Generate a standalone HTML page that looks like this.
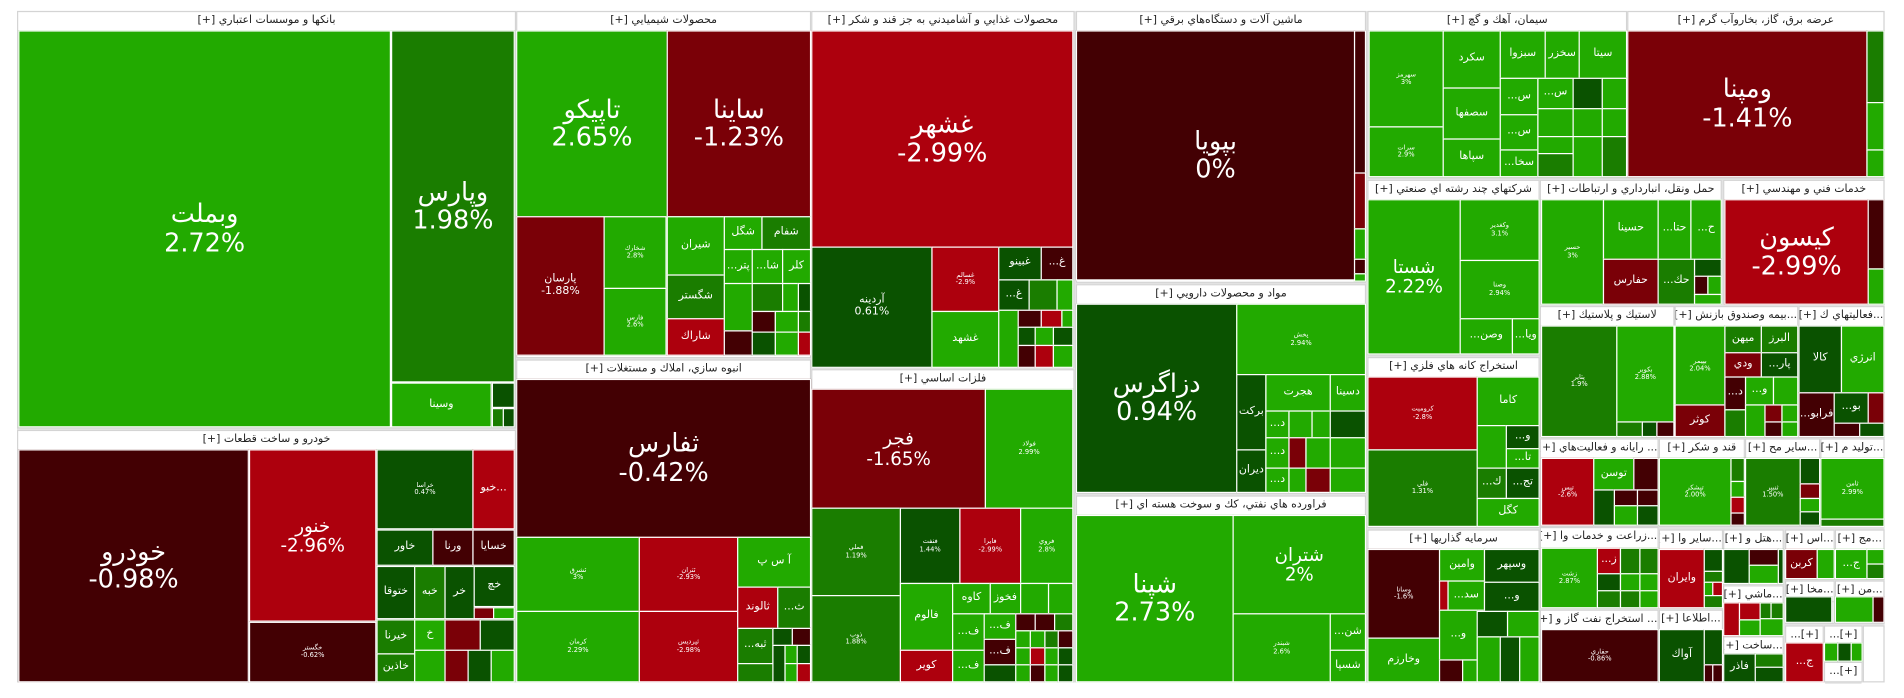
<!DOCTYPE html>
<html><head><meta charset="utf-8"><style>
html,body{margin:0;padding:0;background:#fff;width:1904px;height:698px;overflow:hidden}
#w{position:absolute;left:0;top:0;width:1568px;height:575px;transform:scale(1.2143);transform-origin:0 0}
.s{position:absolute;background:#fff;border:1px solid #d4d4d4;box-sizing:border-box}
.h{position:absolute;left:0;right:0;top:0;height:16px;line-height:15px;font-size:9px;color:#222;text-align:center;direction:rtl;white-space:nowrap;overflow:hidden;font-family:"DejaVu Sans","Liberation Sans",sans-serif;border-bottom:1px solid #ddd}
.t{position:absolute;box-sizing:border-box;border:1px solid #fff;display:flex;align-items:center;justify-content:center;text-align:center;color:#fff;overflow:hidden;line-height:1.1;font-family:"DejaVu Sans","Liberation Sans",sans-serif;font-size:9px;white-space:nowrap}
.g{background:#22aa00}.m{background:#1a7d00}.d{background:#0a5200}.r{background:#ad000d}.k{background:#7a0007}.x{background:#430003}
.f1{font-size:21px}.f2{font-size:15px}.f3{font-size:9px}.f4{font-size:5.5px}
</style></head><body><div id="w">
<div style="position:absolute;left:14px;top:9px;width:1538px;height:553px;background:#e2e2e2"></div>

<div class="s" style="left:14px;top:9px;width:411px;height:344px"><div class="h">بانكها و موسسات اعتباري [+]</div></div>
<div class="s" style="left:14px;top:354px;width:411px;height:208px"><div class="h">خودرو و ساخت قطعات [+]</div></div>
<div class="s" style="left:425px;top:9px;width:243px;height:286px"><div class="h">محصولات شيميايي [+]</div></div>
<div class="s" style="left:425px;top:296px;width:243px;height:266px"><div class="h">انبوه سازي، املاك و مستغلات [+]</div></div>
<div class="s" style="left:668px;top:9px;width:217px;height:294px"><div class="h">محصولات غذايي و آشاميدني به جز قند و شكر [+]</div></div>
<div class="s" style="left:668px;top:304px;width:217px;height:258px"><div class="h">فلزات اساسي [+]</div></div>
<div class="s" style="left:886px;top:9px;width:239px;height:224px"><div class="h">ماشين آلات و دستگاه‌هاي برقي [+]</div></div>
<div class="s" style="left:886px;top:234px;width:239px;height:173px"><div class="h">مواد و محصولات دارويي [+]</div></div>
<div class="s" style="left:886px;top:408px;width:239px;height:154px"><div class="h">فراورده هاي نفتي، كك و سوخت هسته اي [+]</div></div>
<div class="s" style="left:1126px;top:9px;width:214px;height:138px"><div class="h">سيمان، آهك و گچ [+]</div></div>
<div class="s" style="left:1340px;top:9px;width:212px;height:138px"><div class="h">عرضه برق، گاز، بخاروآب گرم [+]</div></div>
<div class="s" style="left:1126px;top:148px;width:142px;height:145px"><div class="h">شركتهاي چند رشته اي صنعتي [+]</div></div>
<div class="s" style="left:1268px;top:148px;width:150px;height:103px"><div class="h">حمل ونقل، انبارداري و ارتباطات [+]</div></div>
<div class="s" style="left:1419px;top:148px;width:133px;height:103px"><div class="h">خدمات فني و مهندسي [+]</div></div>
<div class="s" style="left:1126px;top:294px;width:142px;height:141px"><div class="h">استخراج كانه هاي فلزي [+]</div></div>
<div class="s" style="left:1126px;top:436px;width:142px;height:126px"><div class="h">سرمايه گذاريها [+]</div></div>
<div class="s" style="left:1268px;top:252px;width:111px;height:108px"><div class="h">لاستيك و پلاستيك [+]</div></div>
<div class="s" style="left:1379px;top:252px;width:102px;height:108px"><div class="h">...بيمه وصندوق بازنش [+]</div></div>
<div class="s" style="left:1481px;top:252px;width:71px;height:108px"><div class="h">...فعاليتهاي ك [+]</div></div>
<div class="s" style="left:1268px;top:361px;width:98px;height:73px"><div class="h">... رايانه و فعاليت‌هاي [+]</div></div>
<div class="s" style="left:1366px;top:361px;width:71px;height:73px"><div class="h">قند و شكر [+]</div></div>
<div class="s" style="left:1437px;top:361px;width:62px;height:73px"><div class="h">...ساير مح [+]</div></div>
<div class="s" style="left:1499px;top:361px;width:53px;height:73px"><div class="h">...توليد م [+]</div></div>
<div class="s" style="left:1268px;top:434px;width:98px;height:67px"><div class="h">...زراعت و خدمات وا [+]</div></div>
<div class="s" style="left:1268px;top:502px;width:98px;height:60px"><div class="h">... استخراج نفت گاز و [+]</div></div>
<div class="s" style="left:1366px;top:436px;width:53px;height:65px"><div class="h">...ساير وا [+]</div></div>
<div class="s" style="left:1366px;top:502px;width:53px;height:60px"><div class="h">...اطلاعا [+]</div></div>
<div class="s" style="left:1419px;top:436px;width:50px;height:45px"><div class="h">...هتل و [+]</div></div>
<div class="s" style="left:1419px;top:482px;width:50px;height:42px"><div class="h">...ماشي [+]</div></div>
<div class="s" style="left:1419px;top:524px;width:50px;height:38px"><div class="h">...ساخت [+]</div></div>
<div class="s" style="left:1470px;top:436px;width:41px;height:41px"><div class="h">...اس [+]</div></div>
<div class="s" style="left:1511px;top:436px;width:41px;height:41px"><div class="h">...مج [+]</div></div>
<div class="s" style="left:1470px;top:478px;width:41px;height:36px"><div class="h">...مخا [+]</div></div>
<div class="s" style="left:1511px;top:478px;width:41px;height:36px"><div class="h">...من [+]</div></div>
<div class="s" style="left:1470px;top:515px;width:32px;height:47px"><div class="h">[+]...</div></div>
<div class="s" style="left:1502px;top:515px;width:32px;height:30px"><div class="h">[+]...</div></div>
<div class="s" style="left:1502px;top:545px;width:32px;height:17px"><div class="h">[+]...</div></div>
<div class="s" style="left:1534px;top:515px;width:18px;height:47px"></div>

<!-- Banks -->
<div class="t g f1" style="left:15px;top:25px;width:307px;height:327px">وبملت<br>2.72%</div>
<div class="t m f1" style="left:322px;top:25px;width:102px;height:290px">وپارس<br>1.98%</div>
<div class="t g f3" style="left:322px;top:315px;width:83px;height:37px">وسينا</div>
<div class="t d" style="left:405px;top:315px;width:19px;height:21px"></div>
<div class="t m" style="left:405px;top:336px;width:10px;height:16px"></div>
<div class="t d" style="left:414px;top:336px;width:10px;height:16px"></div>

<!-- Auto -->
<div class="t x f1" style="left:15px;top:370px;width:190px;height:192px">خودرو<br>-0.98%</div>
<div class="t r f2" style="left:205px;top:370px;width:105px;height:142px">خنور<br>-2.96%</div>
<div class="t x f4" style="left:205px;top:512px;width:105px;height:50px">خگستر<br>-0.62%</div>
<div class="t d f4" style="left:310px;top:370px;width:80px;height:66px">خراسا<br>0.47%</div>
<div class="t r f3" style="left:389px;top:370px;width:35px;height:66px">خبو...</div>
<div class="t d f3" style="left:310px;top:436px;width:47px;height:30px">خاور</div>
<div class="t x f3" style="left:356px;top:436px;width:34px;height:30px">ورنا</div>
<div class="t x f3" style="left:389px;top:436px;width:35px;height:30px">خسايا</div>
<div class="t d f3" style="left:310px;top:466px;width:32px;height:44px">ختوقا</div>
<div class="t m f3" style="left:341px;top:466px;width:26px;height:44px">خبه</div>
<div class="t d f3" style="left:366px;top:466px;width:25px;height:44px">خر</div>
<div class="t d f3" style="left:390px;top:466px;width:34px;height:34px">خچ</div>
<div class="t k" style="left:390px;top:500px;width:17px;height:10px"></div>
<div class="t g" style="left:406px;top:500px;width:18px;height:10px"></div>
<div class="t m f3" style="left:310px;top:510px;width:32px;height:29px">خيرنا</div>
<div class="t m f3" style="left:310px;top:538px;width:32px;height:24px">خاذين</div>
<div class="t g f3" style="left:341px;top:510px;width:26px;height:26px">خ</div>
<div class="t k" style="left:366px;top:510px;width:30px;height:26px"></div>
<div class="t d" style="left:395px;top:510px;width:29px;height:26px"></div>
<div class="t g" style="left:341px;top:535px;width:26px;height:27px"></div>
<div class="t k" style="left:366px;top:535px;width:20px;height:27px"></div>
<div class="t d" style="left:385px;top:535px;width:20px;height:27px"></div>
<div class="t g" style="left:404px;top:535px;width:20px;height:27px"></div>

<!-- Chem -->
<div class="t g f1" style="left:425px;top:25px;width:125px;height:154px">تاپيكو<br>2.65%</div>
<div class="t k f1" style="left:549px;top:25px;width:119px;height:154px">ساينا<br>-1.23%</div>
<div class="t k f3" style="left:425px;top:178px;width:73px;height:115px">پارسان<br>-1.88%</div>
<div class="t g f4" style="left:497px;top:178px;width:52px;height:60px">شخارك<br>2.8%</div>
<div class="t g f4" style="left:497px;top:237px;width:52px;height:56px">فارس<br>2.6%</div>
<div class="t g f3" style="left:549px;top:178px;width:48px;height:49px">شيران</div>
<div class="t m f3" style="left:549px;top:226px;width:48px;height:37px">شگستر</div>
<div class="t r f3" style="left:549px;top:262px;width:48px;height:31px">شاراك</div>
<div class="t g f3" style="left:596px;top:178px;width:32px;height:28px">شگل</div>
<div class="t m f3" style="left:627px;top:178px;width:41px;height:28px">شفام</div>
<div class="t g f3" style="left:596px;top:205px;width:24px;height:29px">...پتر</div>
<div class="t g f3" style="left:619px;top:205px;width:26px;height:29px">...شا</div>
<div class="t g f3" style="left:644px;top:205px;width:24px;height:29px">كلر</div>
<div class="t g" style="left:596px;top:233px;width:24px;height:40px"></div>
<div class="t m" style="left:619px;top:233px;width:26px;height:24px"></div>
<div class="t g" style="left:644px;top:233px;width:14px;height:24px"></div>
<div class="t d" style="left:657px;top:233px;width:11px;height:24px"></div>
<div class="t x" style="left:619px;top:256px;width:20px;height:18px"></div>
<div class="t g" style="left:638px;top:256px;width:20px;height:18px"></div>
<div class="t m" style="left:657px;top:256px;width:11px;height:18px"></div>
<div class="t x" style="left:596px;top:272px;width:24px;height:21px"></div>
<div class="t d" style="left:619px;top:273px;width:20px;height:20px"></div>
<div class="t g" style="left:638px;top:273px;width:20px;height:20px"></div>
<div class="t r" style="left:657px;top:273px;width:11px;height:20px"></div>

<!-- Building -->
<div class="t x f1" style="left:425px;top:312px;width:243px;height:131px">ثفارس<br>-0.42%</div>
<div class="t g f4" style="left:425px;top:442px;width:102px;height:62px">ثشرق<br>3%</div>
<div class="t g f4" style="left:425px;top:503px;width:102px;height:59px">كرمان<br>2.29%</div>
<div class="t r f4" style="left:526px;top:442px;width:82px;height:62px">ثتران<br>-2.93%</div>
<div class="t r f4" style="left:526px;top:503px;width:82px;height:59px">ثپرديس<br>-2.98%</div>
<div class="t g f3" style="left:607px;top:442px;width:61px;height:42px">آ س پ</div>
<div class="t r f3" style="left:607px;top:483px;width:34px;height:35px">ثالوند</div>
<div class="t m f3" style="left:640px;top:483px;width:28px;height:35px">...ث</div>
<div class="t m f3" style="left:607px;top:517px;width:30px;height:30px">...ثبه</div>
<div class="t d" style="left:636px;top:517px;width:17px;height:15px"></div>
<div class="t x" style="left:652px;top:517px;width:16px;height:15px"></div>
<div class="t d" style="left:636px;top:531px;width:11px;height:31px"></div>
<div class="t g" style="left:646px;top:531px;width:11px;height:16px"></div>
<div class="t d" style="left:656px;top:531px;width:12px;height:16px"></div>
<div class="t m" style="left:607px;top:546px;width:30px;height:16px"></div>
<div class="t g" style="left:646px;top:546px;width:11px;height:16px"></div>
<div class="t r" style="left:656px;top:546px;width:12px;height:16px"></div>

<!-- Food -->
<div class="t r f1" style="left:668px;top:25px;width:216px;height:179px">غشهر<br>-2.99%</div>
<div class="t d f3" style="left:668px;top:203px;width:100px;height:100px">آردينه<br>0.61%</div>
<div class="t r f4" style="left:767px;top:203px;width:56px;height:54px">غسالم<br>-2.9%</div>
<div class="t g f3" style="left:767px;top:256px;width:56px;height:47px">غشهد</div>
<div class="t d f3" style="left:822px;top:203px;width:36px;height:28px">غبينو</div>
<div class="t x f3" style="left:857px;top:203px;width:27px;height:28px">...غ</div>
<div class="t d f3" style="left:822px;top:230px;width:26px;height:26px">...غ</div>
<div class="t m" style="left:847px;top:230px;width:24px;height:26px"></div>
<div class="t g" style="left:870px;top:230px;width:14px;height:26px"></div>
<div class="t g" style="left:822px;top:255px;width:17px;height:48px"></div>
<div class="t x" style="left:838px;top:255px;width:20px;height:15px"></div>
<div class="t r" style="left:857px;top:255px;width:18px;height:15px"></div>
<div class="t g" style="left:874px;top:255px;width:10px;height:15px"></div>
<div class="t d" style="left:838px;top:269px;width:15px;height:16px"></div>
<div class="t g" style="left:852px;top:269px;width:16px;height:16px"></div>
<div class="t d" style="left:867px;top:269px;width:17px;height:16px"></div>
<div class="t x" style="left:838px;top:284px;width:15px;height:19px"></div>
<div class="t r" style="left:852px;top:284px;width:16px;height:19px"></div>
<div class="t g" style="left:867px;top:284px;width:17px;height:19px"></div>

<!-- Metals -->
<div class="t k f2" style="left:668px;top:320px;width:144px;height:99px">فجر<br>-1.65%</div>
<div class="t g f4" style="left:811px;top:320px;width:73px;height:99px">فولاد<br>2.99%</div>
<div class="t m f4" style="left:668px;top:418px;width:74px;height:73px">فملي<br>1.19%</div>
<div class="t m f4" style="left:668px;top:490px;width:74px;height:72px">ذوب<br>1.88%</div>
<div class="t d f4" style="left:741px;top:418px;width:50px;height:63px">فنفت<br>1.44%</div>
<div class="t r f4" style="left:790px;top:418px;width:51px;height:63px">فايرا<br>-2.99%</div>
<div class="t g f4" style="left:840px;top:418px;width:44px;height:63px">فروي<br>2.8%</div>
<div class="t g f3" style="left:741px;top:480px;width:44px;height:56px">فالوم</div>
<div class="t r f3" style="left:741px;top:535px;width:44px;height:27px">كوير</div>
<div class="t g f3" style="left:784px;top:480px;width:32px;height:26px">كاوه</div>
<div class="t g f3" style="left:815px;top:480px;width:26px;height:26px">فخوز</div>
<div class="t g" style="left:840px;top:480px;width:24px;height:26px"></div>
<div class="t g" style="left:863px;top:480px;width:21px;height:26px"></div>
<div class="t g f3" style="left:784px;top:505px;width:27px;height:31px">...ف</div>
<div class="t g f3" style="left:784px;top:535px;width:27px;height:27px">...ف</div>
<div class="t g f3" style="left:810px;top:505px;width:27px;height:22px">...ف</div>
<div class="t x f3" style="left:810px;top:526px;width:27px;height:22px">...ف</div>
<div class="t d" style="left:810px;top:547px;width:27px;height:15px"></div>
<div class="t x" style="left:836px;top:505px;width:17px;height:15px"></div>
<div class="t x" style="left:852px;top:505px;width:17px;height:15px"></div>
<div class="t m" style="left:868px;top:505px;width:16px;height:15px"></div>
<div class="t g" style="left:836px;top:519px;width:13px;height:15px"></div>
<div class="t g" style="left:848px;top:519px;width:13px;height:15px"></div>
<div class="t m" style="left:860px;top:519px;width:12px;height:15px"></div>
<div class="t x" style="left:871px;top:519px;width:13px;height:15px"></div>
<div class="t g" style="left:836px;top:533px;width:13px;height:15px"></div>
<div class="t r" style="left:848px;top:533px;width:13px;height:15px"></div>
<div class="t g" style="left:860px;top:533px;width:12px;height:15px"></div>
<div class="t d" style="left:871px;top:533px;width:13px;height:15px"></div>
<div class="t g" style="left:836px;top:547px;width:13px;height:15px"></div>
<div class="t x" style="left:848px;top:547px;width:13px;height:15px"></div>
<div class="t g" style="left:860px;top:547px;width:12px;height:15px"></div>
<div class="t d" style="left:871px;top:547px;width:13px;height:15px"></div>

<!-- Machines -->
<div class="t x f1" style="left:886px;top:25px;width:230px;height:206px">بپويا<br>0%</div>
<div class="t x" style="left:1115px;top:25px;width:10px;height:118px"></div>
<div class="t k" style="left:1115px;top:142px;width:10px;height:47px"></div>
<div class="t g" style="left:1115px;top:188px;width:10px;height:26px"></div>
<div class="t x" style="left:1115px;top:213px;width:10px;height:13px"></div>
<div class="t g" style="left:1115px;top:225px;width:10px;height:7px"></div>

<!-- Pharma -->
<div class="t d f1" style="left:886px;top:250px;width:133px;height:156px">دزاگرس<br>0.94%</div>
<div class="t g f4" style="left:1018px;top:250px;width:107px;height:59px">پخش<br>2.94%</div>
<div class="t d f3" style="left:1018px;top:308px;width:25px;height:63px">بركت</div>
<div class="t d f3" style="left:1018px;top:370px;width:25px;height:36px">ديران</div>
<div class="t g f3" style="left:1042px;top:308px;width:54px;height:31px">هجرت</div>
<div class="t g f3" style="left:1095px;top:308px;width:30px;height:31px">دسينا</div>
<div class="t g f3" style="left:1042px;top:338px;width:20px;height:23px">...د</div>
<div class="t g" style="left:1061px;top:338px;width:20px;height:23px"></div>
<div class="t g f3" style="left:1080px;top:338px;width:16px;height:23px"></div>
<div class="t d" style="left:1095px;top:338px;width:30px;height:23px"></div>
<div class="t g f3" style="left:1042px;top:360px;width:20px;height:26px">...د</div>
<div class="t k" style="left:1061px;top:360px;width:15px;height:26px"></div>
<div class="t g" style="left:1075px;top:360px;width:21px;height:26px"></div>
<div class="t g" style="left:1095px;top:360px;width:30px;height:26px"></div>
<div class="t g f3" style="left:1042px;top:385px;width:20px;height:21px">...د</div>
<div class="t g" style="left:1061px;top:385px;width:15px;height:21px"></div>
<div class="t k" style="left:1075px;top:385px;width:21px;height:21px"></div>
<div class="t g" style="left:1095px;top:385px;width:30px;height:21px"></div>

<!-- Refinery -->
<div class="t g f1" style="left:886px;top:424px;width:130px;height:138px">شپنا<br>2.73%</div>
<div class="t g f2" style="left:1015px;top:424px;width:110px;height:82px">شتران<br>2%</div>
<div class="t g f4" style="left:1015px;top:505px;width:81px;height:57px">شبندر<br>2.6%</div>
<div class="t g f3" style="left:1095px;top:505px;width:30px;height:31px">...شن</div>
<div class="t g f3" style="left:1095px;top:535px;width:30px;height:27px">شسپا</div>

<!-- Cement -->
<div class="t g f4" style="left:1127px;top:25px;width:62px;height:80px">سهرمز<br>3%</div>
<div class="t g f4" style="left:1127px;top:104px;width:62px;height:42px">سرات<br>2.9%</div>
<div class="t g f3" style="left:1188px;top:25px;width:48px;height:48px">سكرد</div>
<div class="t g f3" style="left:1188px;top:72px;width:48px;height:43px">سصفها</div>
<div class="t g f3" style="left:1188px;top:114px;width:48px;height:32px">سپاها</div>
<div class="t g f3" style="left:1235px;top:25px;width:38px;height:40px">سبزوا</div>
<div class="t g f3" style="left:1235px;top:64px;width:32px;height:31px">...س</div>
<div class="t g f3" style="left:1235px;top:94px;width:32px;height:30px">...س</div>
<div class="t g f3" style="left:1235px;top:123px;width:32px;height:23px">...سخا</div>
<div class="t g f3" style="left:1272px;top:25px;width:29px;height:40px">سخزر</div>
<div class="t g f3" style="left:1300px;top:25px;width:40px;height:40px">سيتا</div>
<div class="t g f3" style="left:1266px;top:64px;width:30px;height:26px">...س</div>
<div class="t d" style="left:1295px;top:64px;width:25px;height:26px"></div>
<div class="t g" style="left:1319px;top:64px;width:21px;height:26px"></div>
<div class="t g" style="left:1266px;top:89px;width:30px;height:24px"></div>
<div class="t g" style="left:1295px;top:89px;width:25px;height:24px"></div>
<div class="t g" style="left:1319px;top:89px;width:21px;height:24px"></div>
<div class="t g" style="left:1266px;top:112px;width:30px;height:15px"></div>
<div class="t m" style="left:1266px;top:126px;width:30px;height:20px"></div>
<div class="t g" style="left:1295px;top:112px;width:25px;height:34px"></div>
<div class="t m" style="left:1319px;top:112px;width:21px;height:34px"></div>

<!-- Electricity -->
<div class="t k f1" style="left:1340px;top:25px;width:198px;height:121px">ومپنا<br>-1.41%</div>
<div class="t m" style="left:1537px;top:25px;width:15px;height:60px"></div>
<div class="t g" style="left:1537px;top:84px;width:15px;height:40px"></div>
<div class="t g" style="left:1537px;top:123px;width:15px;height:23px"></div>

<!-- Multi -->
<div class="t g f2" style="left:1126px;top:164px;width:77px;height:128px">شستا<br>2.22%</div>
<div class="t g f4" style="left:1202px;top:164px;width:66px;height:51px">وكغدير<br>3.1%</div>
<div class="t g f4" style="left:1202px;top:214px;width:66px;height:49px">وصنا<br>2.94%</div>
<div class="t g f3" style="left:1202px;top:262px;width:44px;height:30px">...وصن</div>
<div class="t g f3" style="left:1245px;top:262px;width:23px;height:30px">...ويا</div>

<!-- Transport -->
<div class="t g f4" style="left:1269px;top:164px;width:52px;height:87px">حسير<br>3%</div>
<div class="t g f3" style="left:1320px;top:164px;width:46px;height:50px">حسينا</div>
<div class="t k f3" style="left:1320px;top:213px;width:46px;height:38px">حفارس</div>
<div class="t g f3" style="left:1365px;top:164px;width:28px;height:50px">...حتا</div>
<div class="t g f3" style="left:1392px;top:164px;width:26px;height:50px">...ح</div>
<div class="t m f3" style="left:1365px;top:213px;width:31px;height:38px">...حك</div>
<div class="t d" style="left:1395px;top:213px;width:23px;height:15px"></div>
<div class="t x" style="left:1395px;top:227px;width:12px;height:16px"></div>
<div class="t g" style="left:1406px;top:227px;width:12px;height:16px"></div>
<div class="t g" style="left:1395px;top:242px;width:23px;height:9px"></div>

<!-- Khadamat -->
<div class="t r f1" style="left:1420px;top:164px;width:119px;height:87px">كيسون<br>-2.99%</div>
<div class="t x" style="left:1538px;top:164px;width:14px;height:58px"></div>
<div class="t g" style="left:1538px;top:221px;width:14px;height:30px"></div>

<!-- Mining -->
<div class="t r f4" style="left:1126px;top:310px;width:91px;height:61px">كروميت<br>-2.8%</div>
<div class="t m f4" style="left:1126px;top:370px;width:91px;height:64px">فلي<br>1.31%</div>
<div class="t g f3" style="left:1216px;top:310px;width:52px;height:41px">كاما</div>
<div class="t g" style="left:1216px;top:350px;width:25px;height:36px"></div>
<div class="t d f3" style="left:1240px;top:350px;width:28px;height:20px">...و</div>
<div class="t g f3" style="left:1240px;top:369px;width:28px;height:17px">...تا</div>
<div class="t m f3" style="left:1216px;top:385px;width:25px;height:26px">...ك</div>
<div class="t d f3" style="left:1240px;top:385px;width:28px;height:26px">...تج</div>
<div class="t g f3" style="left:1216px;top:410px;width:52px;height:24px">كگل</div>

<!-- Invest -->
<div class="t x f4" style="left:1126px;top:452px;width:60px;height:74px">وسانا<br>-1.6%</div>
<div class="t g f3" style="left:1126px;top:525px;width:60px;height:37px">وخارزم</div>
<div class="t g f3" style="left:1185px;top:452px;width:38px;height:27px">وامين</div>
<div class="t d f3" style="left:1222px;top:452px;width:46px;height:28px">وسپهر</div>
<div class="t r" style="left:1185px;top:478px;width:8px;height:25px"></div>
<div class="t g f3" style="left:1192px;top:478px;width:31px;height:25px">...سد</div>
<div class="t d f3" style="left:1222px;top:479px;width:46px;height:25px">...و</div>
<div class="t g f3" style="left:1185px;top:502px;width:32px;height:42px">...و</div>
<div class="t d" style="left:1216px;top:503px;width:26px;height:22px"></div>
<div class="t g" style="left:1241px;top:503px;width:27px;height:22px"></div>
<div class="t x" style="left:1185px;top:543px;width:20px;height:19px"></div>
<div class="t g" style="left:1204px;top:543px;width:13px;height:19px"></div>
<div class="t g" style="left:1216px;top:524px;width:20px;height:38px"></div>
<div class="t d" style="left:1235px;top:524px;width:17px;height:38px"></div>
<div class="t g" style="left:1251px;top:524px;width:17px;height:38px"></div>

<!-- Plastic -->
<div class="t m f4" style="left:1269px;top:268px;width:63px;height:92px">پتاير<br>1.9%</div>
<div class="t g f4" style="left:1331px;top:268px;width:48px;height:80px">بكوير<br>2.88%</div>
<div class="t m" style="left:1331px;top:347px;width:22px;height:13px"></div>
<div class="t d" style="left:1352px;top:347px;width:13px;height:13px"></div>
<div class="t x" style="left:1364px;top:347px;width:15px;height:13px"></div>

<!-- Bimeh -->
<div class="t g f4" style="left:1379px;top:268px;width:42px;height:66px">بپيمر<br>2.04%</div>
<div class="t k f3" style="left:1379px;top:333px;width:42px;height:27px">كوثر</div>
<div class="t m f3" style="left:1420px;top:268px;width:31px;height:23px">ميهن</div>
<div class="t m f3" style="left:1450px;top:268px;width:31px;height:23px">البرز</div>
<div class="t k f3" style="left:1420px;top:290px;width:31px;height:21px">ودي</div>
<div class="t d f3" style="left:1450px;top:290px;width:31px;height:21px">...پار</div>
<div class="t x f3" style="left:1420px;top:310px;width:18px;height:28px">...د</div>
<div class="t g f3" style="left:1437px;top:310px;width:24px;height:24px">...و</div>
<div class="t g" style="left:1460px;top:310px;width:21px;height:24px"></div>
<div class="t m" style="left:1420px;top:337px;width:18px;height:23px"></div>
<div class="t g" style="left:1437px;top:333px;width:17px;height:27px"></div>
<div class="t k" style="left:1453px;top:333px;width:15px;height:15px"></div>
<div class="t g" style="left:1467px;top:333px;width:14px;height:15px"></div>
<div class="t x" style="left:1453px;top:347px;width:15px;height:13px"></div>
<div class="t g" style="left:1467px;top:347px;width:14px;height:13px"></div>

<!-- Faal -->
<div class="t d f3" style="left:1481px;top:268px;width:36px;height:56px">كالا</div>
<div class="t g f3" style="left:1516px;top:268px;width:36px;height:56px">انرژي</div>
<div class="t x f3" style="left:1481px;top:323px;width:30px;height:37px">...فرابو</div>
<div class="t d f3" style="left:1510px;top:323px;width:29px;height:26px">...بو</div>
<div class="t k" style="left:1538px;top:323px;width:14px;height:26px"></div>
<div class="t x" style="left:1510px;top:348px;width:22px;height:12px"></div>
<div class="t d" style="left:1531px;top:348px;width:21px;height:12px"></div>

<!-- Rayaneh -->
<div class="t r f4" style="left:1269px;top:377px;width:44px;height:56px">تپس<br>-2.6%</div>
<div class="t g f3" style="left:1312px;top:377px;width:34px;height:27px">توسن</div>
<div class="t x" style="left:1345px;top:377px;width:21px;height:27px"></div>
<div class="t d" style="left:1312px;top:403px;width:18px;height:30px"></div>
<div class="t x" style="left:1329px;top:403px;width:20px;height:14px"></div>
<div class="t x" style="left:1348px;top:403px;width:18px;height:14px"></div>
<div class="t g" style="left:1329px;top:416px;width:20px;height:17px"></div>
<div class="t d" style="left:1348px;top:416px;width:18px;height:17px"></div>

<!-- Ghand -->
<div class="t g f4" style="left:1366px;top:377px;width:60px;height:56px">تپشكر<br>2.00%</div>
<div class="t m" style="left:1425px;top:377px;width:12px;height:20px"></div>
<div class="t g" style="left:1425px;top:396px;width:12px;height:14px"></div>
<div class="t r" style="left:1425px;top:409px;width:12px;height:14px"></div>
<div class="t x" style="left:1425px;top:422px;width:12px;height:11px"></div>

<!-- SayerMaj -->
<div class="t m f4" style="left:1437px;top:377px;width:46px;height:56px">ثنبپر<br>1.50%</div>
<div class="t d" style="left:1482px;top:377px;width:17px;height:22px"></div>
<div class="t k" style="left:1482px;top:398px;width:17px;height:13px"></div>
<div class="t g" style="left:1482px;top:410px;width:17px;height:12px"></div>
<div class="t d" style="left:1482px;top:421px;width:17px;height:12px"></div>

<!-- Tolid -->
<div class="t g f4" style="left:1499px;top:377px;width:53px;height:51px">ثامن<br>2.99%</div>
<div class="t m" style="left:1499px;top:427px;width:53px;height:7px"></div>

<!-- Zeraat -->
<div class="t g f4" style="left:1269px;top:451px;width:47px;height:50px">زشت<br>2.87%</div>
<div class="t r f3" style="left:1315px;top:451px;width:20px;height:22px">...ز</div>
<div class="t m" style="left:1334px;top:451px;width:17px;height:22px"></div>
<div class="t m" style="left:1350px;top:451px;width:16px;height:22px"></div>
<div class="t d" style="left:1315px;top:472px;width:20px;height:15px"></div>
<div class="t g" style="left:1334px;top:472px;width:17px;height:15px"></div>
<div class="t g" style="left:1350px;top:472px;width:16px;height:15px"></div>
<div class="t m" style="left:1315px;top:486px;width:20px;height:15px"></div>
<div class="t m" style="left:1334px;top:486px;width:17px;height:15px"></div>
<div class="t g" style="left:1350px;top:486px;width:16px;height:15px"></div>

<!-- Naft -->
<div class="t x f4" style="left:1269px;top:518px;width:97px;height:44px">حفاري<br>-0.86%</div>

<!-- SayerVa -->
<div class="t r f3" style="left:1366px;top:452px;width:38px;height:49px">وايران</div>
<div class="t d" style="left:1403px;top:452px;width:16px;height:19px"></div>
<div class="t m" style="left:1403px;top:470px;width:16px;height:10px"></div>
<div class="t g" style="left:1403px;top:479px;width:8px;height:12px"></div>
<div class="t r" style="left:1410px;top:479px;width:9px;height:12px"></div>
<div class="t m" style="left:1403px;top:490px;width:16px;height:11px"></div>

<!-- Etelaa -->
<div class="t d f3" style="left:1366px;top:518px;width:38px;height:44px">آواك</div>
<div class="t d" style="left:1403px;top:518px;width:16px;height:30px"></div>
<div class="t x" style="left:1403px;top:547px;width:8px;height:15px"></div>
<div class="t x" style="left:1410px;top:547px;width:9px;height:15px"></div>

<!-- Hotel / Mashi / Sakht -->
<div class="t d" style="left:1419px;top:452px;width:22px;height:29px"></div>
<div class="t x" style="left:1440px;top:452px;width:25px;height:14px"></div>
<div class="t g" style="left:1440px;top:465px;width:25px;height:16px"></div>
<div class="t d" style="left:1464px;top:452px;width:5px;height:29px"></div>
<div class="t r" style="left:1419px;top:496px;width:14px;height:28px"></div>
<div class="t r" style="left:1432px;top:496px;width:18px;height:15px"></div>
<div class="t g" style="left:1432px;top:510px;width:18px;height:14px"></div>
<div class="t m" style="left:1449px;top:496px;width:10px;height:14px"></div>
<div class="t m" style="left:1458px;top:496px;width:11px;height:14px"></div>
<div class="t g" style="left:1449px;top:509px;width:20px;height:15px"></div>
<div class="t d f3" style="left:1419px;top:538px;width:27px;height:24px">فاذر</div>
<div class="t m" style="left:1445px;top:538px;width:24px;height:12px"></div>
<div class="t d" style="left:1445px;top:549px;width:24px;height:13px"></div>

<!-- small right -->
<div class="t k f3" style="left:1470px;top:452px;width:27px;height:25px">كربن</div>
<div class="t g" style="left:1496px;top:452px;width:15px;height:25px"></div>
<div class="t g f3" style="left:1511px;top:452px;width:27px;height:25px">...ج</div>
<div class="t g" style="left:1537px;top:452px;width:15px;height:13px"></div>
<div class="t m" style="left:1537px;top:464px;width:15px;height:13px"></div>
<div class="t d" style="left:1470px;top:491px;width:39px;height:22px"></div>
<div class="t g" style="left:1511px;top:491px;width:32px;height:22px"></div>
<div class="t x" style="left:1542px;top:491px;width:10px;height:22px"></div>
<div class="t r f3" style="left:1470px;top:529px;width:32px;height:33px">...ج</div>
<div class="t g" style="left:1502px;top:529px;width:12px;height:16px"></div>
<div class="t d" style="left:1513px;top:529px;width:12px;height:16px"></div>
<div class="t g" style="left:1524px;top:529px;width:10px;height:16px"></div>
</div></body></html>
